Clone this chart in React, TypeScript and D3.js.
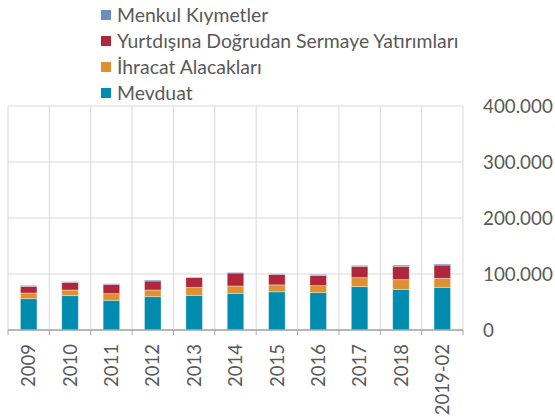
import React from "react";
import * as d3 from "d3";

const categories = ["2009", "2010", "2011", "2012", "2013", "2014", "2015", "2016", "2017", "2018", "2019-02"];
const mevduat = [55900, 61300, 53000, 59500, 61900, 65500, 68200, 66700, 77400, 72600, 76200];
const ihracat = [10100, 10100, 11900, 11900, 14300, 13100, 12400, 12500, 16100, 17300, 16100];
const yurtdisi = [12000, 13700, 16600, 16100, 17300, 23200, 18800, 18400, 20200, 23800, 23700];
const menkul = [1700, 1200, 1200, 1800, 1100, 1200, 1200, 1800, 1800, 2300, 1900];
const yTicks = [0, 100000, 200000, 300000, 400000];
const seriesNames = ["Mevduat", "İhracat Alacakları", "Yurtdışına Doğrudan Sermaye Yatırımları", "Menkul Kıymetler"];
const colors = ["#008CAE", "#DE9132", "#B0263A", "#6A8FBF"];

export default function App() {
  const W = 555, H = 417;
  const left = 8, right = 463, top = 106, bottom = 330;
  const font = "Lato, 'Open Sans', sans-serif";
  const x = d3.scaleBand<string>().domain(categories).range([left, right]).paddingInner(0.6).paddingOuter(0.3);
  const y = d3.scaleLinear().domain([0, 400000]).range([bottom, top]);
  const rows = categories.map((c, i) => ({ cat: c, v0: mevduat[i], v1: ihracat[i], v2: yurtdisi[i], v3: menkul[i] }));
  const stack = d3.stack<any>().keys(["v0", "v1", "v2", "v3"]);
  const layers = stack(rows);
  const step = x.step();
  const bounds = categories.map((c) => (x(c) as number) - (step * x.paddingInner()) / 2);
  bounds.push(right);
  const legendOrder = [3, 2, 1, 0];
  const fmt = (v: number) => (v === 0 ? "0" : d3.format(",")(v).replace(/,/g, "."));
  return (
    <svg width={W} height={H} style={{ position: "absolute", left: 0, top: 0 }}>
      <rect width={W} height={H} fill="#fff" />
      {yTicks.map((t) => (
        <line key={t} x1={left} x2={right} y1={y(t)} y2={y(t)} stroke="#D9D9D9" strokeWidth={1} />
      ))}
      {bounds.map((b, i) => (
        <line key={i} x1={b} x2={b} y1={top} y2={bottom} stroke="#D9D9D9" strokeWidth={1} />
      ))}
      {layers.map((layer, li) =>
        layer.map((d, i) => (
          <rect
            key={li + "-" + i}
            x={x(categories[i])}
            width={x.bandwidth()}
            y={y(d[1])}
            height={y(d[0]) - y(d[1])}
            fill={colors[li]}
            stroke="rgba(255,255,255,0.45)"
            strokeWidth={0.8}
          />
        ))
      )}
      <line x1={left} x2={right} y1={bottom} y2={bottom} stroke="#A6A6A6" strokeWidth={1.3} />
      {bounds.map((b, i) => (
        <line key={"t" + i} x1={b} x2={b} y1={bottom} y2={bottom + 5} stroke="#A6A6A6" strokeWidth={1} />
      ))}
      {yTicks.map((t) => (
        <text key={"l" + t} x={483} y={y(t)} dy="0.36em" fontFamily={font} fontSize={18.8} fill="#595959">
          {fmt(t)}
        </text>
      ))}
      {categories.map((c) => (
        <text
          key={"c" + c}
          transform={`translate(${(x(c) as number) + x.bandwidth() / 2},${bottom + 14}) rotate(-90)`}
          textAnchor="end"
          dy="0.36em"
          fontFamily={font}
          fontSize={18.5}
          fill="#595959"
        >
          {c}
        </text>
      ))}
      {legendOrder.map((si, k) => (
        <g key={"lg" + si} transform={`translate(101,${15 + k * 26})`}>
          <rect x={0} y={-5} width={10} height={10} fill={colors[si]} />
          <text x={16} y={0} dy="0.36em" fontFamily={font} fontSize={19.4} fill="#595959">
            {seriesNames[si]}
          </text>
        </g>
      ))}
    </svg>
  );
}
